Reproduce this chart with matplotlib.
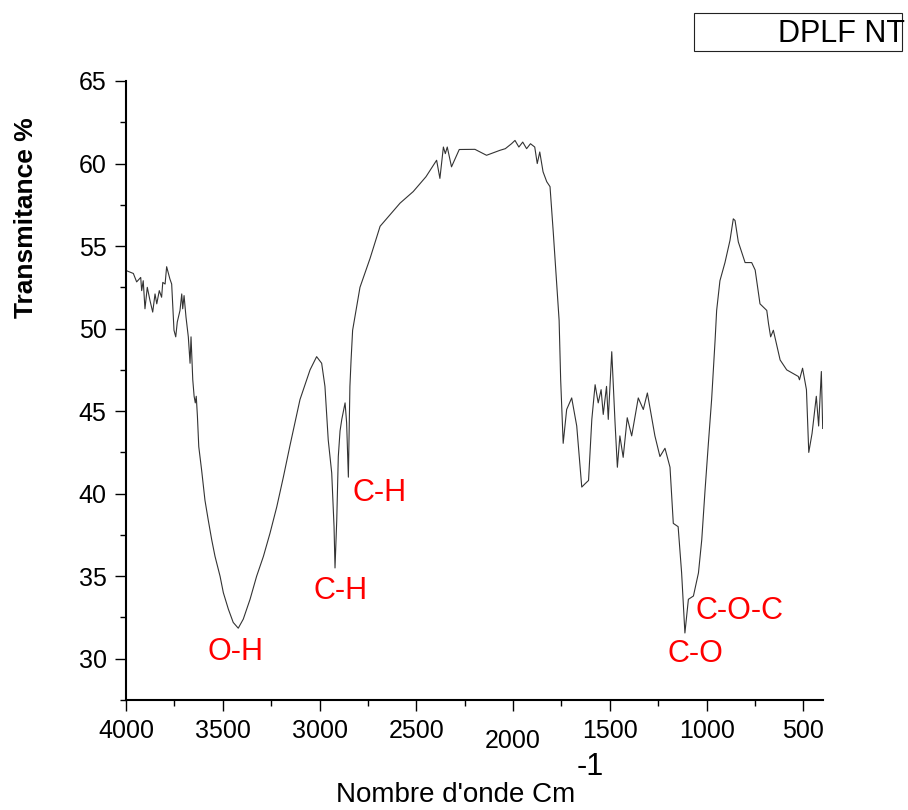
import matplotlib
matplotlib.use("Agg")
import matplotlib.pyplot as plt
from matplotlib.patches import Rectangle
from matplotlib.transforms import ScaledTranslation
import numpy as np

plt.rcParams['font.family'] = ['Liberation Sans', 'DejaVu Sans']

wavenumber = [4000, 3996, 3962, 3945, 3924, 3919, 3911, 3902, 3890, 3876, 3862, 3850, 3841,
              3828, 3816, 3810, 3798, 3790, 3773, 3764, 3752, 3743, 3735, 3721, 3712, 3707,
              3700, 3690, 3678, 3669, 3664, 3655, 3648, 3642, 3637, 3631, 3624, 3609, 3592,
              3575, 3557, 3540, 3514, 3497, 3471, 3446, 3420, 3394, 3359, 3325, 3290, 3256,
              3221, 3187, 3153, 3101, 3049, 3015, 2989, 2972, 2955, 2937, 2925, 2920, 2911,
              2903, 2894, 2885, 2868, 2860, 2851, 2843, 2837, 2829, 2791, 2739, 2687, 2584,
              2516, 2450, 2395, 2378, 2360, 2350, 2340, 2318, 2278, 2197, 2137, 2068, 2040,
              2008, 1990, 1970, 1950, 1930, 1910, 1888, 1875, 1862, 1845, 1826, 1809, 1792,
              1762, 1754, 1741, 1723, 1697, 1671, 1645, 1628, 1610, 1593, 1576, 1560, 1545,
              1534, 1517, 1508, 1490, 1473, 1461, 1448, 1431, 1410, 1387, 1353, 1327, 1306,
              1267, 1241, 1215, 1189, 1172, 1147, 1129, 1112, 1094, 1068, 1042, 1025, 1008,
              991, 974, 956, 948, 931, 905, 879, 862, 853, 836, 801, 767, 749, 724, 689, 680,
              669, 655, 620, 586, 526, 520, 504, 484, 472, 455, 433, 421, 407, 400]
transmittance = [53.6, 53.5, 53.34, 52.83, 53.1, 52.3, 52.9, 51.2, 52.5, 51.7, 51.0, 52.1, 51.5,
                 52.3, 51.9, 52.8, 52.7, 53.75, 53.0, 52.7, 49.9, 49.5, 50.4, 51.1, 52.1, 51.2,
                 52.0, 50.7, 49.5, 47.9, 49.5, 46.9, 45.9, 45.5, 45.9, 44.7, 42.85, 41.4, 39.6,
                 38.4, 37.2, 36.2, 35.0, 34.0, 33.0, 32.2, 31.85, 32.4, 33.6, 35.0, 36.2, 37.6,
                 39.2, 41.0, 42.9, 45.7, 47.5, 48.3, 47.9, 46.5, 43.25, 41.25, 38.0, 35.5, 38.4,
                 42.25, 43.8, 44.5, 45.5, 44.3, 41.0, 46.5, 48.1, 49.9, 52.5, 54.25, 56.2, 57.6,
                 58.3, 59.2, 60.2, 59.1, 61.0, 60.6, 61.0, 59.8, 60.85, 60.86, 60.5, 60.8, 60.9,
                 61.2, 61.4, 61.0, 61.3, 60.9, 61.2, 61.0, 60.0, 60.7, 59.5, 58.9, 58.6, 55.8,
                 50.5, 46.9, 43.05, 45.1, 45.8, 44.1, 40.4, 40.6, 40.8, 44.5, 46.6, 45.5, 46.3,
                 44.8, 46.5, 44.5, 48.6, 44.3, 41.6, 43.5, 42.2, 44.6, 43.5, 45.8, 45.1, 46.1,
                 43.5, 42.25, 42.75, 41.6, 38.2, 38.0, 35.2, 31.56, 33.6, 33.8, 35.2, 37.2, 40.2,
                 43.0, 45.7, 49.3, 51.1, 52.9, 54.0, 55.35, 56.65, 56.55, 55.25, 54.0, 54.0, 53.55,
                 51.5, 51.1, 50.3, 49.5, 49.9, 48.1, 47.5, 47.1, 46.9, 47.6, 46.3, 42.5, 43.65,
                 45.9, 44.1, 47.4, 43.95]

band_labels = ["O-H", "C-H", "C-H", "C-O", "C-O-C"]
band_x = [3434, 2890, 2688, 1056, 832]
band_y = [30.43, 34.08, 40.05, 30.3, 32.87]

x_ticks = [4000, 3500, 3000, 2500, 2000, 1500, 1000, 500]
y_ticks = [30, 35, 40, 45, 50, 55, 60, 65]
legend_label = "DPLF NT"

fig = plt.figure(figsize=(9.08, 8.10), dpi=100)
ax = fig.add_axes([126 / 908, 1 - 700 / 810, (822.7 - 126) / 908, (700 - 81) / 810])

ax.plot(wavenumber, transmittance, color='#333333', lw=0.8)

ax.set_xlim(4000, 400)
ax.set_ylim(27.5, 65)
ax.set_xticks(x_ticks)
ax.set_xticks([3750, 3250, 2750, 2250, 1750, 1250, 750], minor=True)
ax.set_yticks(y_ticks)
ax.set_yticks([27.5, 32.5, 37.5, 42.5, 47.5, 52.5, 57.5, 62.5], minor=True)
ax.set_xticklabels([str(t) for t in x_ticks])
ax.set_yticklabels([str(t) for t in y_ticks])

for s in ['top', 'right']:
    ax.spines[s].set_visible(False)
for s in ['left', 'bottom']:
    ax.spines[s].set_linewidth(1.5)

ax.tick_params(which='major', direction='out', length=8, width=1, labelsize=18, pad=6)
ax.tick_params(which='minor', direction='out', length=4.5, width=1)

for lbl in ax.get_xticklabels():
    if lbl.get_text() == "2000":
        lbl.set_transform(lbl.get_transform() + ScaledTranslation(0, -10 / 100, fig.dpi_scale_trans))

for t, x, y in zip(band_labels, band_x, band_y):
    ax.text(x, y, t, color='red', fontsize=22, ha='center', va='center')

fig.text(26 / 908, 1 - 218 / 810, "Transmitance %", rotation=90, fontsize=19,
         fontweight='bold', ha='center', va='center')
fig.text(575 / 908, 1 - 802 / 810, "Nombre d'onde Cm", fontsize=20,
         ha='right', va='baseline')
fig.text(577 / 908, 1 - 775 / 810, "-1", fontsize=22, ha='left', va='baseline')

fig.patches.append(Rectangle((694 / 908, 1 - 51 / 810), 208 / 908, 38 / 810,
                             transform=fig.transFigure, fill=False,
                             edgecolor='#222222', lw=0.8))
fig.text(905 / 908, 1 - 34 / 810, legend_label, fontsize=22, ha='right', va='center')

fig.savefig("out.png", dpi=100)
